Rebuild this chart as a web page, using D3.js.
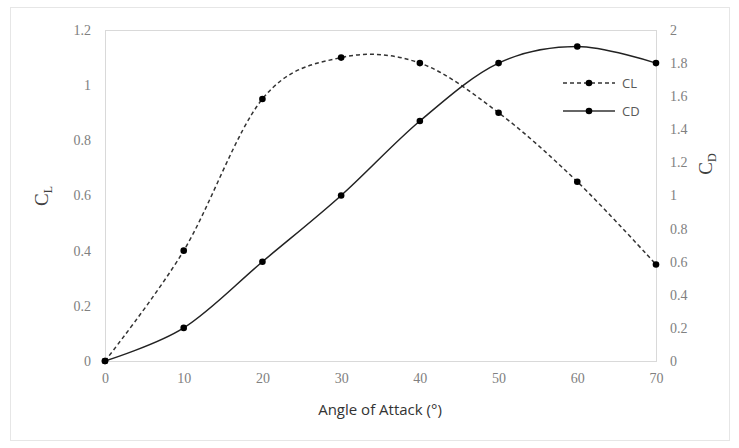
<!DOCTYPE html>
<html>
<head>
<meta charset="utf-8">
<script src="https://cdn.jsdelivr.net/npm/d3@7"></script>
<style>
  body { margin: 0; background: #fff; }
  .tick text { font-family: "Liberation Serif", serif; font-size: 14px; fill: #808080; }
</style>
</head>
<body>
<div id="chart"></div>
<script>
// Data
var angles = [0, 10, 20, 30, 40, 50, 60, 70];
var clValues = [0, 0.4, 0.95, 1.1, 1.08, 0.9, 0.65, 0.35];
var cdValues = [0, 0.2, 0.6, 1.0, 1.45, 1.8, 1.9, 1.8];
var xTicks = [0, 10, 20, 30, 40, 50, 60, 70];
var clTicks = [0, 0.2, 0.4, 0.6, 0.8, 1, 1.2];
var cdTicks = [0, 0.2, 0.4, 0.6, 0.8, 1, 1.2, 1.4, 1.6, 1.8, 2];

var width = 739, height = 448;
var margin = { top: 30, right: 83, bottom: 87, left: 105 };
var w = width - margin.left - margin.right;
var h = height - margin.top - margin.bottom;

var svg = d3.select("#chart").append("svg")
    .attr("width", width)
    .attr("height", height);

// outer chart frame
svg.append("rect")
    .attr("x", 10.5).attr("y", 7.5)
    .attr("width", 719).attr("height", 433)
    .attr("fill", "#fff")
    .attr("stroke", "#e6e6e6");

var g = svg.append("g")
    .attr("transform", "translate(" + margin.left + "," + margin.top + ")");

var x = d3.scaleLinear().domain([0, 70]).range([0, w]);
var yL = d3.scaleLinear().domain([0, 1.2]).range([h, 0]);
var yD = d3.scaleLinear().domain([0, 2]).range([h, 0]);

// plot area box
g.append("rect")
    .attr("x", 0.5).attr("y", 0.5)
    .attr("width", w).attr("height", h)
    .attr("fill", "none")
    .attr("stroke", "#d9d9d9");

var xAxis = g.append("g")
    .attr("transform", "translate(0," + h + ")")
    .call(d3.axisBottom(x).tickValues(xTicks).tickSize(0).tickPadding(12));

var leftAxis = g.append("g")
    .call(d3.axisLeft(yL).tickValues(clTicks).tickSize(0).tickPadding(14).tickFormat(d3.format("")));

var rightAxis = g.append("g")
    .attr("transform", "translate(" + w + ",0)")
    .call(d3.axisRight(yD).tickValues(cdTicks).tickSize(0).tickPadding(14).tickFormat(d3.format("")));

[xAxis, leftAxis, rightAxis].forEach(function(a) { a.select(".domain").remove(); });

// axis titles
svg.append("text")
    .attr("x", 380).attr("y", 415)
    .attr("text-anchor", "middle")
    .style("font-family", "'Open Sans', sans-serif")
    .style("font-size", "15px")
    .style("fill", "#333")
    .text("Angle of Attack (°)");

var clTitle = svg.append("text")
    .attr("transform", "translate(48,196) rotate(-90)")
    .attr("text-anchor", "middle")
    .style("font-family", "'Liberation Serif', serif")
    .style("font-size", "19px")
    .style("fill", "#404040");
clTitle.append("tspan").text("C");
clTitle.append("tspan").attr("font-size", "12px").attr("dy", 4).text("L");

var cdTitle = svg.append("text")
    .attr("transform", "translate(712,164) rotate(-90)")
    .attr("text-anchor", "middle")
    .style("font-family", "'Liberation Serif', serif")
    .style("font-size", "19px")
    .style("fill", "#404040");
cdTitle.append("tspan").text("C");
cdTitle.append("tspan").attr("font-size", "12px").attr("dy", 4).text("D");

var clData = angles.map(function(a, i) { return { x: a, y: clValues[i] }; });
var cdData = angles.map(function(a, i) { return { x: a, y: cdValues[i] }; });

var lineL = d3.line().x(d => x(d.x)).y(d => yL(d.y)).curve(d3.curveCardinal.tension(0));
var lineD = d3.line().x(d => x(d.x)).y(d => yD(d.y)).curve(d3.curveCardinal.tension(0));

g.append("path")
    .datum(clData)
    .attr("d", lineL)
    .attr("fill", "none")
    .attr("stroke", "#333")
    .attr("stroke-width", 1.5)
    .attr("stroke-dasharray", "4,3");

g.append("path")
    .datum(cdData)
    .attr("d", lineD)
    .attr("fill", "none")
    .attr("stroke", "#222")
    .attr("stroke-width", 1.5);

var markerR = 3.3;

g.selectAll(".mk-cl")
    .data(clData)
    .enter().append("circle")
    .attr("class", "mk-cl")
    .attr("r", markerR)
    .attr("cx", d => x(d.x))
    .attr("cy", d => yL(d.y))
    .attr("fill", "#000");

g.selectAll(".mk-cd")
    .data(cdData)
    .enter().append("circle")
    .attr("class", "mk-cd")
    .attr("r", markerR)
    .attr("cx", d => x(d.x))
    .attr("cy", d => yD(d.y))
    .attr("fill", "#000");

// legend
var legendItems = [
    { name: "CL", dash: "4,3" },
    { name: "CD", dash: null }
];

var legend = svg.append("g").attr("transform", "translate(563,83)");

legendItems.forEach(function(item, i) {
    var row = legend.append("g").attr("transform", "translate(0," + (i * 28) + ")");
    row.append("line")
        .attr("x1", 0).attr("x2", 52)
        .attr("stroke", "#333")
        .attr("stroke-width", 1.5)
        .attr("stroke-dasharray", item.dash);
    row.append("circle")
        .attr("r", markerR)
        .attr("cx", 26)
        .attr("fill", "#000");
    row.append("text")
        .attr("x", 59).attr("y", 5)
        .style("font-family", "'Open Sans', sans-serif")
        .style("font-size", "13px")
        .style("fill", "#595959")
        .text(item.name);
});
</script>
</body>
</html>
